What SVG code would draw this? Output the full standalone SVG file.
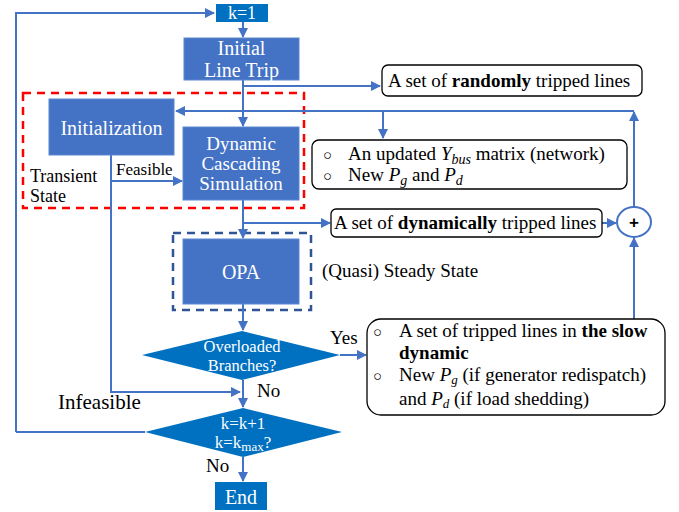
<svg xmlns="http://www.w3.org/2000/svg" width="679" height="512" viewBox="0 0 679 512">
<defs>
<marker id="ah" markerWidth="10" markerHeight="10" refX="9" refY="5" orient="auto" markerUnits="userSpaceOnUse">
<path d="M0,0 L10,5 L0,10 Z" fill="#4472C4"/>
</marker>
<style>
.ln{stroke:#4472C4;stroke-width:2;fill:none}
.bx{fill:#4472C4;stroke:#5B87D0;stroke-width:1}
.dk{fill:#0070C0}
.wt{fill:#fff;text-anchor:middle}
.bt{fill:#000}
text{font-family:'Liberation Serif','Times New Roman',Tinos,'DejaVu Serif',serif}
.tb{fill:#fff;stroke:#000;stroke-width:1.3}
.m{font-style:italic}
</style>
</defs>
<rect width="679" height="512" fill="#fff"/>

<g id="transient-region">
<rect x="23" y="93" width="281" height="115" fill="none" stroke="#FF0000" stroke-width="2.5" stroke-dasharray="8,6"/>
<text class="bt" x="30" y="182" font-size="18">Transient</text>
<text class="bt" x="30" y="202" font-size="18">State</text>
</g>
<g id="steady-region">
<rect x="173" y="233" width="138" height="77" fill="none" stroke="#2F5597" stroke-width="2.5" stroke-dasharray="8,6"/>
<text class="bt" x="322" y="277" font-size="19">(Quasi) Steady State</text>
</g>

<g id="connectors">
<path class="ln" d="M16,432 L16,13 L214,13" marker-end="url(#ah)"/>
<path class="ln" d="M243,21 L243,37" marker-end="url(#ah)"/>
<path class="ln" d="M243,80 L243,126" marker-end="url(#ah)"/>
<path class="ln" d="M243,86 L380,86" marker-end="url(#ah)"/>
<path class="ln" d="M634,207 L634,112" marker-end="url(#ah)"/>
<path class="ln" d="M634,111 L176,111" marker-end="url(#ah)"/>
<path class="ln" d="M383,111 L383,138" marker-end="url(#ah)"/>
<path class="ln" d="M111,155 L111,392 L240,392" marker-end="url(#ah)"/>
<path class="ln" d="M111,181 L182,181" marker-end="url(#ah)"/>
<path class="ln" d="M243,200 L243,238" marker-end="url(#ah)"/>
<path class="ln" d="M243,223 L330,223" marker-end="url(#ah)"/>
<path class="ln" d="M602,223 L616,223" marker-end="url(#ah)"/>
<path class="ln" d="M634,319 L634,238" marker-end="url(#ah)"/>
<path class="ln" d="M243,304 L243,330" marker-end="url(#ah)"/>
<path class="ln" d="M340,355 L366,355" marker-end="url(#ah)"/>
<path class="ln" d="M243,380 L243,407" marker-end="url(#ah)"/>
<path class="ln" d="M145,432 L16,432"/>
<path class="ln" d="M243,457 L243,481" marker-end="url(#ah)"/>
<text class="bt" x="116" y="175" font-size="17">Feasible</text>
<text class="bt" x="58" y="409" font-size="21">Infeasible</text>
<text class="bt" x="330" y="344" font-size="19">Yes</text>
<text class="bt" x="257" y="397" font-size="19">No</text>
<text class="bt" x="206" y="472" font-size="19">No</text>
</g>

<g id="k1">
<rect class="dk" x="216" y="4" width="52" height="18"/>
<text class="wt" x="242" y="19" font-size="18">k=1</text>
</g>
<g id="initial-line-trip">
<rect class="bx" x="184" y="38" width="115" height="42"/>
<text class="wt" x="241.5" y="55" font-size="20">Initial</text>
<text class="wt" x="241.5" y="77" font-size="20">Line Trip</text>
</g>
<g id="initialization">
<rect class="bx" x="49" y="99" width="125" height="56"/>
<text class="wt" x="111.5" y="135" font-size="20">Initialization</text>
</g>
<g id="dcs">
<rect class="bx" x="183" y="127" width="116" height="73"/>
<text class="wt" x="241" y="150" font-size="19">Dynamic</text>
<text class="wt" x="241" y="170" font-size="19">Cascading</text>
<text class="wt" x="241" y="190" font-size="19">Simulation</text>
</g>
<g id="opa">
<rect class="bx" x="183" y="239" width="116" height="65"/>
<text class="wt" x="241" y="279" font-size="20">OPA</text>
</g>
<g id="overloaded">
<polygon class="dk" points="142,355 242,331 340,355 242,380"/>
<text class="wt" x="242" y="352" font-size="16.5">Overloaded</text>
<text class="wt" x="242" y="371" font-size="16.5">Branches?</text>
</g>
<g id="kcheck">
<polygon class="dk" points="145,432 243,408 342,432 243,457"/>
<text class="wt" x="243" y="429" font-size="17">k=k+1</text>
<text class="wt" x="243" y="448" font-size="17">k=k<tspan font-size="13" dy="3">max</tspan><tspan dy="-3">?</tspan></text>
</g>
<g id="end">
<rect class="dk" x="215" y="482" width="52" height="28"/>
<text class="wt" x="241" y="504" font-size="20">End</text>
</g>

<g id="random-box">
<rect class="tb" x="382" y="65" width="260" height="31" rx="6"/>
<text class="bt" x="388" y="87" font-size="19">A set of <tspan font-weight="bold">randomly</tspan> tripped lines</text>
</g>
<g id="updated-box">
<rect class="tb" x="312" y="140" width="315" height="49" rx="7"/>
<text class="bt" x="323" y="160" font-size="15">○</text>
<text class="bt" x="348" y="160" font-size="19">An updated <tspan class="m">Y</tspan><tspan class="m" font-size="14" dy="4">bus</tspan><tspan dy="-4"> matrix (network)</tspan></text>
<text class="bt" x="323" y="181" font-size="15">○</text>
<text class="bt" x="348" y="181" font-size="19">New <tspan class="m">P</tspan><tspan class="m" font-size="14" dy="4">g</tspan><tspan dy="-4"> and </tspan><tspan class="m">P</tspan><tspan class="m" font-size="14" dy="4">d</tspan></text>
</g>
<g id="dynamic-box">
<rect class="tb" x="331" y="209" width="271" height="28" rx="5"/>
<text class="bt" x="334" y="229" font-size="19">A set of <tspan font-weight="bold">dynamically</tspan> tripped lines</text>
</g>
<g id="plus">
<ellipse cx="634" cy="222" rx="17" ry="15" fill="#fff" stroke="#4472C4" stroke-width="2"/>
<text x="634" y="228" style="font-family:'Liberation Sans',sans-serif" font-size="17" font-weight="bold" text-anchor="middle">+</text>
</g>
<g id="slow-box">
<rect class="tb" x="367" y="319" width="298" height="96" rx="14"/>
<text class="bt" x="373" y="337" font-size="15">○</text>
<text class="bt" x="399" y="337" font-size="19">A set of tripped lines in <tspan font-weight="bold">the slow</tspan></text>
<text class="bt" x="399" y="359" font-size="19" font-weight="bold">dynamic</text>
<text class="bt" x="373" y="381" font-size="15">○</text>
<text class="bt" x="399" y="381" font-size="19">New <tspan class="m">P</tspan><tspan class="m" font-size="13" dy="3">g</tspan><tspan dy="-3"> (if generator redispatch)</tspan></text>
<text class="bt" x="399" y="405" font-size="19">and <tspan class="m">P</tspan><tspan class="m" font-size="13" dy="3">d</tspan><tspan dy="-3"> (if load shedding)</tspan></text>
</g>
</svg>
